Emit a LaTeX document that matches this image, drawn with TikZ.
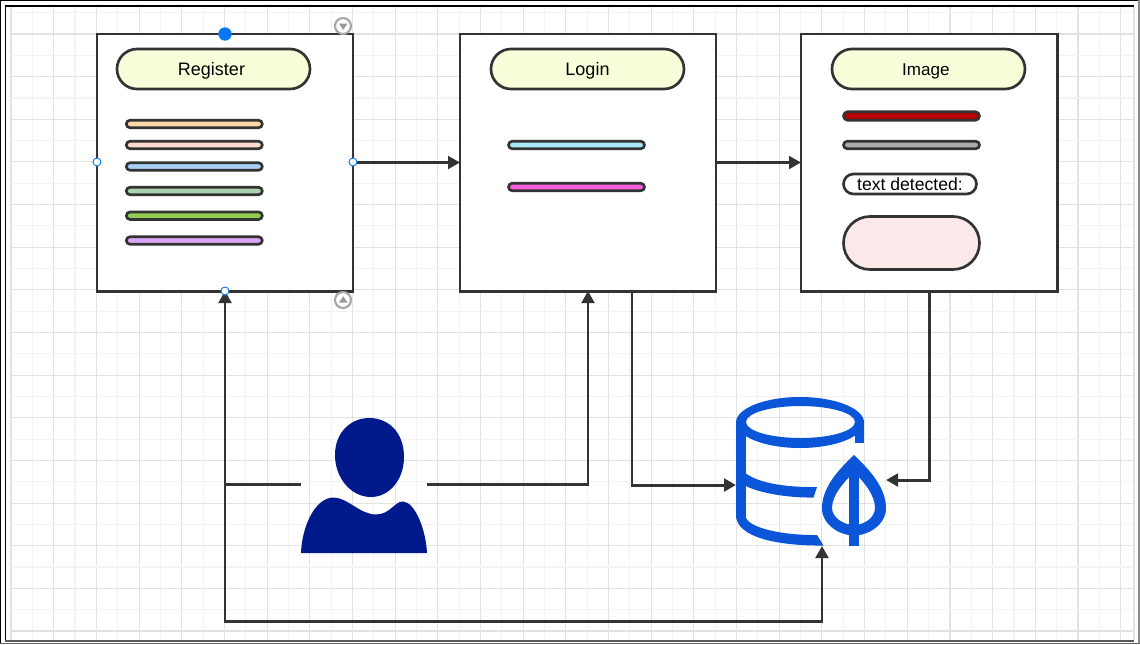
\documentclass[tikz,border=0pt]{standalone}
\usepackage{fontspec}
\setmainfont{Liberation Sans}
\usetikzlibrary{shapes.misc,arrows.meta}
\definecolor{ink}{HTML}{333333}
\definecolor{gridmajor}{HTML}{E2E2E2}
\definecolor{gridminor}{HTML}{F3F3F3}
\definecolor{selblue}{HTML}{0A78F0}
\definecolor{dbblue}{HTML}{0A55D8}
\definecolor{userblue}{HTML}{001A8C}
\definecolor{titlefill}{HTML}{F6FFD9}
\definecolor{orange1}{HTML}{FFD8A8}
\definecolor{orange2}{HTML}{FFD9CC}
\definecolor{blue1}{HTML}{A9CFF5}
\definecolor{green1}{HTML}{ACD2B4}
\definecolor{green2}{HTML}{8FCC4F}
\definecolor{purple1}{HTML}{DCA4F7}
\definecolor{cyan1}{HTML}{A8E8F8}
\definecolor{pink1}{HTML}{F75CE0}
\definecolor{red1}{HTML}{B80000}
\definecolor{gray1}{HTML}{AAAAAA}
\definecolor{pink2}{HTML}{FBE9E9}
\tikzset{
  size/.style 2 args={minimum width=#1*0.75pt,minimum height=#2*0.75pt},
  panel/.style={draw=ink,fill=white,line width=2.24pt,inner sep=0pt,outer sep=0pt,size={256}{257}},
  pill/.style={rounded rectangle,draw=ink,line width=2pt,inner sep=0pt,outer sep=0pt,font=\fontsize{13.5}{16}\selectfont,text=black,text depth=0pt},
  titlepill/.style={pill,fill=titlefill,size={193}{40},text height=10pt},
  bar/.style={pill,fill=#1,size={136}{7.5}},
  flow/.style={draw=ink,line width=2.24pt},
  flowarrow/.style={flow,-{Triangle[length=9pt,width=9.5pt]}},
  handle/.style={circle,draw=selblue,fill=white,line width=0.7pt,inner sep=0pt,outer sep=0pt,minimum size=6pt},
  mainhandle/.style={circle,fill=selblue,inner sep=0pt,outer sep=0pt,minimum size=10pt},
  foldicon/.style={circle,draw=black!35,line width=1.6pt,inner sep=0pt,outer sep=0pt,minimum size=12pt},
  anchorbox/.style={inner sep=0pt,outer sep=0pt},
}
\begin{document}
\begin{tikzpicture}[x=0.75pt,y=-0.75pt]
\useasboundingbox (0,0) rectangle (1140,644);
\fill[white] (0,0) rectangle (1140,644);
% grid
\foreach \i in {0,...,52}{
  \pgfmathsetmacro\gx{11+21.34*\i}
  \pgfmathtruncatemacro\odd{mod(\i,2)}
  \ifnum\odd=0 \draw[gridmajor,line width=0.8pt] (\gx,7) -- (\gx,640);
  \else \draw[gridminor,line width=0.8pt] (\gx,7) -- (\gx,640); \fi
}
\foreach \i in {0,...,29}{
  \pgfmathsetmacro\gy{12.7+21.32*\i}
  \pgfmathtruncatemacro\odd{mod(\i,2)}
  \ifnum\odd=1 \draw[gridmajor,line width=0.8pt] (11,\gy) -- (1134,\gy);
  \else \draw[gridminor,line width=0.8pt] (11,\gy) -- (1134,\gy); \fi
}
\draw[gridmajor,line width=0.8pt] (1134,7) -- (1134,640);
% frames
\draw[black,line width=1.2pt] (0.5,644) -- (0.5,0.5) -- (1140,0.5);
\draw[black!45,line width=1.2pt] (1139,0) -- (1139,644);
\draw[black!60,line width=0.9pt] (0,643.5) -- (1140,643.5);
\draw[black,line width=1.2pt] (5.5,641) -- (5.5,6) -- (1134,6);
\draw[black!65,line width=1.4pt] (5,641) -- (1134,641);
% panels
\node[panel] (reg) at (225,162.5) {};
\node[panel] (login) at (588,162.5) {};
\node[panel] (image) at (929,162.5) {};
% register content
\node[titlepill] (regtitle) at (213.5,69) {\hspace*{-3pt}Register};
\node[bar=orange1] (r1) at (194.3,124) {};
\node[bar=orange2] (r2) at (194.3,145) {};
\node[bar=blue1] (r3) at (194.3,166.5) {};
\node[bar=green1] (r4) at (194.3,191) {};
\node[bar=green2] (r5) at (194.3,215.7) {};
\node[bar=purple1] (r6) at (194.3,240.5) {};
% login content
\node[titlepill] (logintitle) at (587.5,69) {Login};
\node[bar=cyan1] (l1) at (576.5,145) {};
\node[bar=pink1] (l2) at (576.5,187) {};
% image content
\node[titlepill,font=\fontsize{12.8}{16}\selectfont] (imagetitle) at (928.5,69) {\hspace*{-4pt}Image};
\node[bar=red1,size={136}{8.5}] (i1) at (911.5,116) {};
\node[bar=gray1] (i2) at (911.5,145) {};
\node[pill,fill=white,size={133}{20},font=\fontsize{13.2}{16}\selectfont,text height=9pt] (i3) at (910,184) {text detected:};
\node[pill,fill=pink2,size={136}{53}] (i4) at (911.5,243) {};
% anchors for the two icons
\node[anchorbox,size={126}{138}] (user) at (364,484) {};
\node[anchorbox,size={150}{149}] (db) at (811,471.5) {};
\coordinate (dbleft) at (736,485);
\coordinate (dbright) at (886,480);
\coordinate (dbbottom) at (822,546);
\coordinate (loginout) at (632,291);
\coordinate (junction) at (225,484);
\coordinate (busstart) at (225,621);
% user
\fill[userblue] (369.5,418) .. controls (388,418) and (404,432) .. (404,457)
  .. controls (404,480) and (389,497) .. (371,497)
  .. controls (351,497) and (335,478) .. (335,455)
  .. controls (335,433) and (350,418) .. (369.5,418) -- cycle;
\fill[userblue] (301,553) .. controls (302,525) and (316,497) .. (334,497.5)
  .. controls (348,498) and (360,514.5) .. (376,514.5)
  .. controls (390,514.5) and (395,501) .. (403,501.5)
  .. controls (415,502) and (426,530) .. (427,553) -- cycle;
% database
\fill[dbblue,even odd rule] (800,422.5) ellipse [x radius=64,y radius=25.5]
  (800.5,422) ellipse [x radius=54.5,y radius=16];
\fill[dbblue] (855,420) rectangle (864,443);
\fill[dbblue] (736,422) rectangle (746,518);
\fill[dbblue] (746,473.5) .. controls (760,484) and (790,487.5) .. (817,487)
  -- (813.5,497.5) .. controls (785,498) and (757,492) .. (746,486) -- cycle;
\fill[dbblue] (746,518) .. controls (752,530) and (790,535.5) .. (817,535)
  -- (823.5,545.5) .. controls (780,546) and (736,538) .. (736,515) -- cycle;
\fill[dbblue,even odd rule] (854,455)
  .. controls (838,470) and (822,488) .. (822,508)
  .. controls (822,525) and (840,535.5) .. (854,535.5)
  .. controls (868,535.5) and (886,525) .. (886,508)
  .. controls (886,488) and (870,470) .. (854,455) -- cycle
  (854,472)
  .. controls (844,482) and (832,495) .. (832,508)
  .. controls (832,517) and (843,525) .. (854,525)
  .. controls (865,525) and (875,517) .. (875,508)
  .. controls (875,495) and (864,482) .. (854,472) -- cycle;
\fill[dbblue] (849,460) rectangle (859,545.5);
% connectors
\draw[flowarrow] (reg.east) -- (login.west);
\draw[flowarrow] (login.east) -- (image.west);
\draw[flowarrow] (user.west) -| (reg.south);
\draw[flowarrow] (user.east) -| (login.south);
\draw[flowarrow] (loginout) |- (dbleft);
\draw[flowarrow] (image.south) |- (dbright);
\draw[flowarrow] (junction) -- (busstart) -| (dbbottom);
% selection handles
\node[mainhandle] (h1) at (225,34) {};
\node[handle] (h2) at (97,162) {};
\node[handle] (h3) at (353,162) {};
\node[handle] (h4) at (225,291) {};
\node[foldicon] (f1) at (343,26) {};
\node[foldicon] (f2) at (343,300) {};
\fill[black!40] (339,23.5) -- (347.5,23.5) -- (343.2,29.8) -- cycle;
\fill[black!40] (339,302.5) -- (347.5,302.5) -- (343.2,296.2) -- cycle;
\end{tikzpicture}
\end{document}
